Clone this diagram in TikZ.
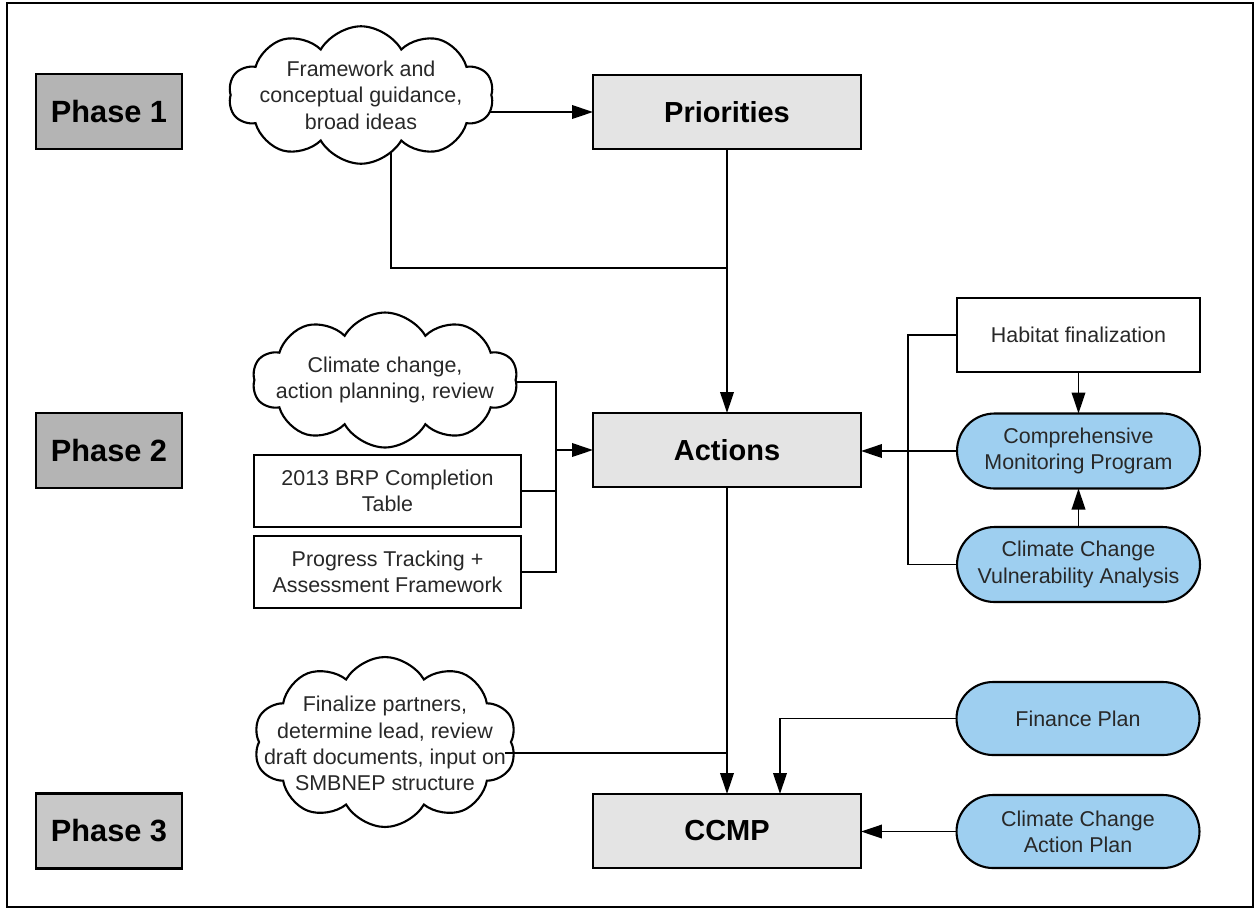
\documentclass[tikz,border=0pt]{standalone}
\usepackage{fontspec}
\setmainfont{Liberation Sans}
\usetikzlibrary{shapes.symbols,shapes.misc,arrows.meta}
\pgfdeclarelayer{bg}
\pgfdeclarelayer{lines}
\pgfsetlayers{bg,lines,main}
\definecolor{phasegray}{RGB}{180,180,180}
\definecolor{phasegrayb}{RGB}{200,200,200}
\definecolor{boxgray}{RGB}{228,228,228}
\definecolor{paleblue}{RGB}{158,207,240}
\definecolor{txt}{RGB}{40,40,40}
\begin{document}
\begin{tikzpicture}[x=0.02cm,y=-0.02cm,
  every node/.style={inner sep=0pt,outer sep=0pt},
  phasebox/.style={draw,line width=1.3pt,fill=phasegray,minimum width=2.92cm,minimum height=1.5cm,font=\fontsize{17.5}{20}\selectfont\bfseries},
  mainbox/.style={draw,line width=1.3pt,fill=boxgray,minimum width=5.36cm,minimum height=1.48cm,font=\fontsize{16.5}{19}\selectfont\bfseries},
  plainbox/.style={draw,line width=1.2pt,fill=white,align=center,text=txt,font=\fontsize{12.2}{15}\selectfont},
  stadium/.style={rounded rectangle,draw,line width=1.2pt,fill=paleblue,align=center,text=txt,minimum width=4.86cm,minimum height=1.5cm,font=\fontsize{12.2}{15}\selectfont},
  cloudshape/.style={cloud,cloud puffs=10,cloud puff arc=120,cloud ignores aspect,draw,line width=1.2pt,fill=white},
  cloudtext/.style={align=center,text=txt,font=\fontsize{12.2}{15}\selectfont},
  link/.style={line width=1.1pt},
  arr/.style={line width=1.1pt,-{Triangle[length=0.42cm,width=0.27cm]}}]
\useasboundingbox (0,0) rectangle (1257,914);
\begin{pgfonlayer}{bg}
\fill[white] (0,0) rectangle (1257,914);
\end{pgfonlayer}
\draw[line width=1.6pt] (7,3) rectangle (1253,907);

% phases
\node[phasebox] (ph1) at (109,111.5) {Phase 1};
\node[phasebox] (ph2) at (109,450.5) {Phase 2};
\node[phasebox,fill=phasegrayb] (ph3) at (109,831) {Phase 3};

% main boxes
\node[mainbox] (pri) at (727,112) {Priorities};
\node[mainbox] (act) at (727,450) {Actions};
\node[mainbox] (ccmp) at (727,831) {CCMP};

% clouds
\node[cloudshape,minimum width=5.3cm,minimum height=2.75cm] (c1) at (361,95) {};
\node[cloudtext] (t1) at (c1) {Framework and\\conceptual guidance,\\broad ideas};
\node[cloudshape,minimum width=5.3cm,minimum height=2.7cm] (c2) at (385,380) {};
\node[cloudtext] (t2) at (c2) {Climate change,\\action planning, review};
\node[cloudshape,minimum width=5.26cm,minimum height=3.4cm] (c3) at (385,742) {};
\node[cloudtext] (t3) at ([yshift=-0.03cm]c3) {Finalize partners,\\determine lead, review\\draft documents, input on\\SMBNEP structure};

% left boxes
\node[plainbox,minimum width=5.34cm,minimum height=1.44cm] (brp) at (387.5,491) {2013 BRP Completion\\Table};
\node[plainbox,minimum width=5.34cm,minimum height=1.44cm] (pt) at (387.5,572) {Progress Tracking +\\Assessment Framework};

% right side
\node[plainbox,minimum width=4.86cm,minimum height=1.48cm] (hab) at (1078.5,335) {Habitat finalization};
\node[stadium] (cmp) at (1078.5,451) {Comprehensive\\Monitoring Program};
\node[stadium] (cva) at (1078.5,564.5) {Climate Change\\Vulnerability Analysis};
\node[stadium,minimum height=1.46cm] (fin) at (1078,718.5) {Finance Plan};
\node[stadium,minimum height=1.46cm] (ccap) at (1078,831.5) {Climate Change\\Action Plan};

% junction coordinates
\coordinate (j1) at (727,268);
\coordinate (bus2) at (556,450);
\coordinate (bus3) at (908,450);
\coordinate (j3) at (727,753);

% connectors
\begin{pgfonlayer}{lines}
\draw[arr] (pri.west -| c1.center) -- (pri.west);
\draw[link] ([xshift=0.6cm]c1.center) |- (j1);
\draw[arr] (pri.south) -- (act.north);

\draw[link] (c2.center |- 0,382) -| (bus2);
\draw[link] (brp.east) -| (bus2);
\draw[link] (pt.east) -| (bus2);
\draw[arr] (bus2) -- (act.west);

\draw[link] (hab.west) -| (bus3);
\draw[link] (cva.west) -| (bus3);
\draw[arr] (cmp.west) -- (cmp.west -| act.east);
\draw[arr] (hab.south) -- (cmp.north);
\draw[arr] (cva.north) -- (cmp.south);

\draw[arr] (act.south) -- (ccmp.north);
\draw[arr] (fin.west) -| ([xshift=1.06cm]ccmp.north);
\draw[arr] (ccap.west) -- (ccap.west -| ccmp.east);
\end{pgfonlayer}
\draw[link] ([xshift=-0.12cm]j3 -| c3.east) -- (j3);
\end{tikzpicture}
\end{document}
